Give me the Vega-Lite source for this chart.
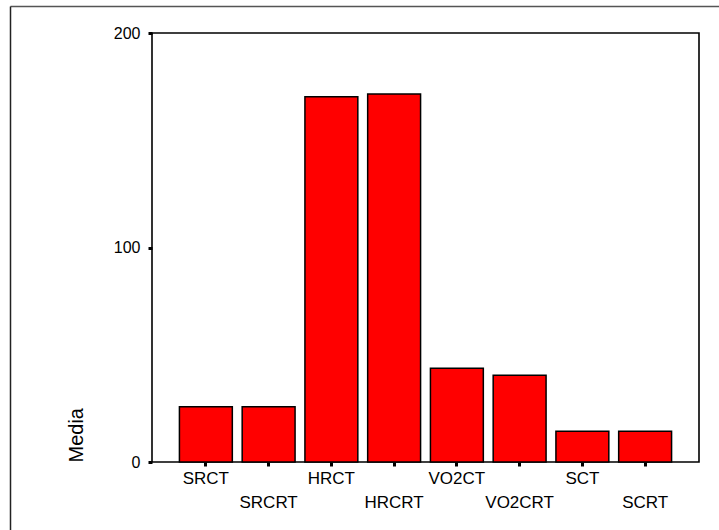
{
  "$schema": "https://vega.github.io/schema/vega-lite/v6.json",
  "autosize": "none",
  "padding": {"left": 152, "top": 33, "right": 20, "bottom": 68},
  "width": 547,
  "height": 429,
  "background": "white",
  "config": {
    "view": {"stroke": "black", "strokeWidth": 1.6},
    "font": "Liberation Sans",
    "axis": {"labelFont": "Liberation Sans", "titleFont": "Liberation Sans", "labelColor": "black", "titleColor": "black"}
  },
  "resolve": {"scale": {"x": "independent", "y": "independent"}, "axis": {"x": "independent", "y": "independent"}},
  "layer": [
    {
      "data": {"values": [
        {"variable": "SRCT", "media": 25.8},
        {"variable": "SRCRT", "media": 25.8},
        {"variable": "HRCT", "media": 170.3},
        {"variable": "HRCRT", "media": 171.6},
        {"variable": "VO2CT", "media": 43.7},
        {"variable": "VO2CRT", "media": 40.5},
        {"variable": "SCT", "media": 14.3},
        {"variable": "SCRT", "media": 14.3}
      ]},
      "mark": {"type": "bar", "color": "#ff0000", "stroke": "black", "strokeWidth": 1.5},
      "encoding": {
        "x": {
          "field": "variable", "type": "nominal", "sort": null,
          "scale": {"paddingInner": 0.157, "paddingOuter": 0.437},
          "axis": {
            "title": null, "domain": false, "labelAngle": 0, "labelOverlap": false, "labelFlush": false,
            "labelFontSize": 17, "labelBaseline": "top",
            "labelPadding": {"condition": {"test": "indexof(['SRCRT','HRCRT','VO2CRT','SCRT'], datum.value) >= 0", "value": 28}, "value": 4},
            "tickSize": 4, "tickWidth": 3, "tickColor": "black"
          }
        },
        "y": {
          "field": "media", "type": "quantitative",
          "scale": {"domain": [0, 200], "nice": false},
          "axis": {
            "title": "Media", "values": [0, 100, 200], "grid": false, "domain": false,
            "labelFontSize": 16, "labelPadding": 8, "labelBaseline": "middle",
            "tickSize": 4, "tickWidth": 3, "tickColor": "black",
            "titleFontSize": 20, "titleFontWeight": "normal",
            "titleX": -76, "titleY": 429, "titleAlign": "left", "titleBaseline": "middle", "titleAngle": 270
          }
        }
      }
    },
    {
      "data": {"values": [{"fx": 0, "fy": 0}]},
      "mark": {"type": "point", "opacity": 0},
      "encoding": {
        "x": {"field": "fx", "type": "quantitative",
          "scale": {"domain": [0, 1], "range": [-142, 567], "nice": false, "zero": false},
          "axis": {"orient": "top", "offset": 27, "title": null, "labels": false, "ticks": false, "grid": false, "domainColor": "#555555", "domainWidth": 1.5}},
        "y": {"field": "fy", "type": "quantitative",
          "scale": {"domain": [0, 1], "range": [497, -27], "nice": false, "zero": false},
          "axis": {"orient": "left", "offset": 142, "title": null, "labels": false, "ticks": false, "grid": false, "domainColor": "#222222", "domainWidth": 1.5}}
      }
    }
  ]
}
